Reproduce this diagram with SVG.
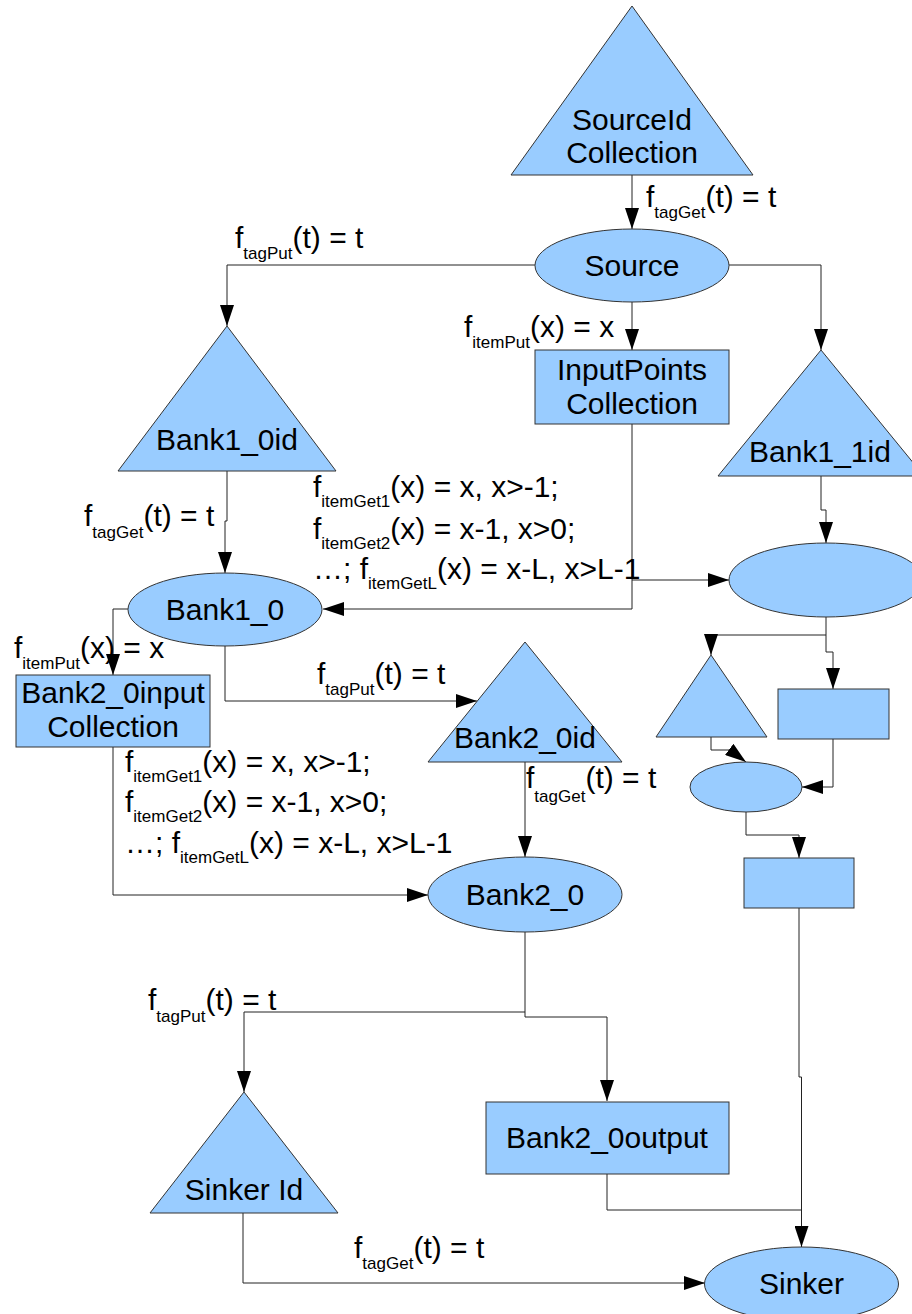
<svg xmlns="http://www.w3.org/2000/svg" width="912" height="1314" viewBox="0 0 912 1314">
  <style>
    .shape { fill: #99ccff; stroke: #333; stroke-width: 1; }
    .conn { fill: none; stroke: #222; stroke-width: 1; marker-end: url(#arrow); }
    .plain { fill: none; stroke: #222; stroke-width: 1; }
    text { font-family: "Liberation Sans", Arial, sans-serif; fill: #000; }
    .node { font-size: 30px; text-anchor: middle; }
    .lbl { font-size: 30px; }
    .sub { font-size: 17px; }
  </style>
  <defs>
    <marker id="arrow" markerUnits="userSpaceOnUse" markerWidth="22" markerHeight="14" refX="21" refY="7" orient="auto">
      <path d="M0,0 L21,7 L0,14 z" fill="#000"/>
    </marker>
  </defs>
  <rect width="912" height="1314" fill="#fff"/>

  <!-- connectors -->
  <g id="connectors">
    <path class="conn" d="M632 175 V229"/>
    <path class="conn" d="M535 265 H227 V326"/>
    <path class="conn" d="M729 265 H821 V350"/>
    <path class="conn" d="M632 302 V350"/>
    <path class="conn" d="M227 471 V521 H225 V573"/>
    <path class="conn" d="M821 476 V510 H826 V543"/>
    <path class="conn" d="M632 424 V609 H323"/>
    <path class="conn" d="M632 580 H729"/>
    <path class="conn" d="M128 609 H113 V675"/>
    <path class="conn" d="M225 646 V701 H477"/>
    <path class="conn" d="M525 762 V857"/>
    <path class="conn" d="M113 747 V895 H428"/>
    <path class="conn" d="M826 617 V635 H711 V655"/>
    <path class="conn" d="M826 635 V652 H833 V689"/>
    <path class="conn" d="M711 737 V750 H730 L746 762"/>
    <path class="conn" d="M833 739 V787 H802"/>
    <path class="conn" d="M746 812 V835 H799 V858"/>
    <path class="conn" d="M525 932 V1012 H244 V1092"/>
    <path class="conn" d="M525 1012 V1017 H607 V1101"/>
    <path class="conn" d="M799 908 V1077 H801.5 V1247"/>
    <path class="plain" d="M607 1174 V1210 H801.5"/>
    <path class="conn" d="M243 1213 V1283 H705"/>
  </g>

  <!-- nodes -->
  <g id="sourceid">
    <polygon class="shape" points="632,6 753,175 511,175"/>
    <text class="node" x="632" y="130">SourceId</text>
    <text class="node" x="632" y="163">Collection</text>
  </g>
  <g id="source">
    <ellipse class="shape" cx="632" cy="265.5" rx="97" ry="36.5"/>
    <text class="node" x="632" y="276">Source</text>
  </g>
  <g id="inputpoints">
    <rect class="shape" x="535" y="350" width="194" height="74"/>
    <text class="node" x="632" y="380">InputPoints</text>
    <text class="node" x="632" y="414">Collection</text>
  </g>
  <g id="bank1_0id">
    <polygon class="shape" points="227,326 336,471 118,471"/>
    <text class="node" x="227" y="450">Bank1_0id</text>
  </g>
  <g id="bank1_1id">
    <polygon class="shape" points="821,350 924,476 718,476"/>
    <text class="node" x="820" y="462">Bank1_1id</text>
  </g>
  <g id="bank1_0">
    <ellipse class="shape" cx="225" cy="609.5" rx="97" ry="36.5"/>
    <text class="node" x="225" y="620">Bank1_0</text>
  </g>
  <g id="bank1_1">
    <ellipse class="shape" cx="826" cy="580" rx="97" ry="37"/>
  </g>
  <g id="bank2_0input">
    <rect class="shape" x="16" y="675" width="194" height="72"/>
    <text class="node" x="113" y="703">Bank2_0input</text>
    <text class="node" x="113" y="737">Collection</text>
  </g>
  <g id="bank2_0id">
    <polygon class="shape" points="525,642 622,762 428,762"/>
    <text class="node" x="525" y="748">Bank2_0id</text>
  </g>
  <g id="bank2_0">
    <ellipse class="shape" cx="525" cy="894.5" rx="97" ry="37.5"/>
    <text class="node" x="525" y="905">Bank2_0</text>
  </g>
  <g id="bank2_1id">
    <polygon class="shape" points="711,655 767,737 656,737"/>
  </g>
  <g id="bank2_1input">
    <rect class="shape" x="778" y="689" width="111" height="50"/>
  </g>
  <g id="bank2_1">
    <ellipse class="shape" cx="746" cy="787" rx="56" ry="25"/>
  </g>
  <g id="bank2_1output">
    <rect class="shape" x="744" y="858" width="110" height="50"/>
  </g>
  <g id="sinkerid">
    <polygon class="shape" points="244,1092 338,1213 150,1213"/>
    <text class="node" x="244" y="1200">Sinker Id</text>
  </g>
  <g id="bank2_0output">
    <rect class="shape" x="486" y="1102" width="243" height="72"/>
    <text class="node" x="607" y="1148">Bank2_0output</text>
  </g>
  <g id="sinker">
    <ellipse class="shape" cx="801.5" cy="1284" rx="97" ry="37"/>
    <text class="node" x="801.5" y="1294">Sinker</text>
  </g>

  <!-- edge labels -->
  <g id="labels" class="lbl">
    <text x="646" y="207">f<tspan class="sub" dy="11">tagGet</tspan><tspan dy="-11">(t) = t</tspan></text>
    <text x="235" y="248">f<tspan class="sub" dy="11">tagPut</tspan><tspan dy="-11">(t) = t</tspan></text>
    <text x="464" y="337">f<tspan class="sub" dy="11">itemPut</tspan><tspan dy="-11">(x) = x</tspan></text>
    <text x="313" y="497">f<tspan class="sub" dy="10">itemGet1</tspan><tspan dy="-10">(x) = x, x&gt;-1;</tspan></text>
    <text x="313" y="539">f<tspan class="sub" dy="10">itemGet2</tspan><tspan dy="-10">(x) = x-1, x&gt;0;</tspan></text>
    <text x="313" y="579">…; f<tspan class="sub" dy="10">itemGetL</tspan><tspan dy="-10">(x) = x-L, x&gt;L-1</tspan></text>
    <text x="84" y="526">f<tspan class="sub" dy="12">tagGet</tspan><tspan dy="-12">(t) = t</tspan></text>
    <text x="14" y="658">f<tspan class="sub" dy="11">itemPut</tspan><tspan dy="-11">(x) = x</tspan></text>
    <text x="317" y="684">f<tspan class="sub" dy="11">tagPut</tspan><tspan dy="-11">(t) = t</tspan></text>
    <text x="526" y="788">f<tspan class="sub" dy="14">tagGet</tspan><tspan dy="-14">(t) = t</tspan></text>
    <text x="125" y="772">f<tspan class="sub" dy="10">itemGet1</tspan><tspan dy="-10">(x) = x, x&gt;-1;</tspan></text>
    <text x="125" y="812">f<tspan class="sub" dy="10">itemGet2</tspan><tspan dy="-10">(x) = x-1, x&gt;0;</tspan></text>
    <text x="125" y="853">…; f<tspan class="sub" dy="10">itemGetL</tspan><tspan dy="-10">(x) = x-L, x&gt;L-1</tspan></text>
    <text x="148" y="1010">f<tspan class="sub" dy="12">tagPut</tspan><tspan dy="-12">(t) = t</tspan></text>
    <text x="354" y="1258">f<tspan class="sub" dy="11">tagGet</tspan><tspan dy="-11">(t) = t</tspan></text>
  </g>
</svg>
